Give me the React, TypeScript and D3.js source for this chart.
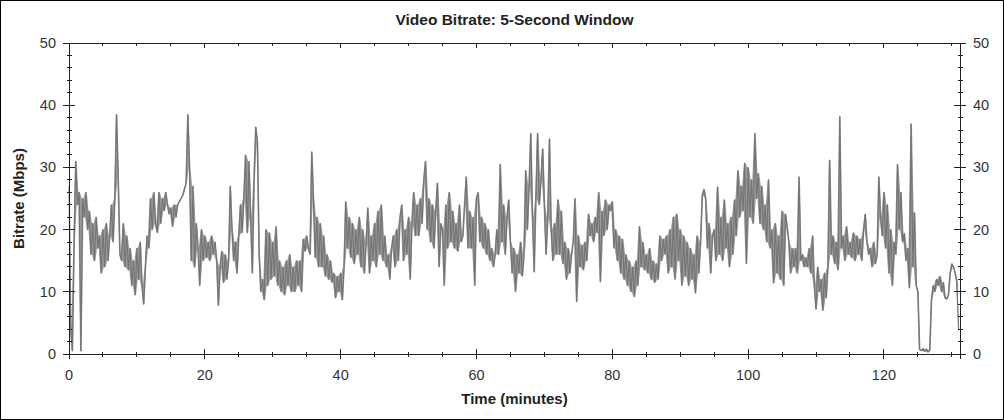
import React from 'react';
import * as d3 from 'd3';

// one sample every 0.25 minute
const STEP = 0.25;
const bitrate = [
  27, 4, 0.5, 18, 31, 24, 26, 0.5, 25, 22, 26, 20, 23, 16, 21, 15,
  22, 17, 19, 13, 20, 14, 21, 15, 19, 24, 18, 25, 38.5, 28, 16, 15,
  21, 14, 19, 13.5, 17, 11, 15, 9.5, 17, 12, 18, 11, 8, 14, 19, 17,
  25, 20, 26, 21, 19.5, 26, 21, 25, 23, 26, 24, 22.5, 23.5, 20.5, 24, 22,
  24, 24.5, 25, 25.5, 26.5, 27.5, 38.5, 30, 15, 27, 14, 21, 17, 11, 20, 15,
  19, 15.5, 18, 15, 19, 16, 18, 15, 7.8, 14, 16.5, 11.5, 16, 12, 15, 27,
  20, 15, 18, 13, 19, 24, 19.5, 25, 32, 19.5, 31, 22, 13, 28, 36.5, 34,
  16, 10, 12, 8.7, 20, 11, 19.5, 12, 18, 12.5, 20.5, 11, 15, 10, 14, 9.5,
  15, 11, 16, 10, 14, 10, 15, 11, 15, 10, 18.5, 16.5, 19, 17, 16, 32.5,
  24.8, 15.5, 22, 14, 21, 14, 19, 12.5, 16, 12, 15, 11.5, 13, 9, 12.5, 10,
  13, 8.7, 14, 24.5, 17, 22, 15.5, 21, 14.5, 20, 16, 22, 14, 20, 13, 18,
  23.5, 13, 19, 15, 21, 14, 23, 16, 24, 15, 19, 14, 16, 12, 17, 19,
  14, 20, 15, 22, 24, 15, 20, 16, 22, 12, 21, 26, 19, 24, 19, 25,
  21, 28, 31, 20, 25, 18, 24, 17, 23, 27.5, 14, 21, 20, 11, 24, 17,
  26, 18, 23, 17, 21, 16.5, 24, 18, 19, 24, 28.5, 17, 23, 17, 22, 11,
  25, 26, 18, 22, 17, 21, 16, 20, 15, 17, 14, 16, 20, 16, 30.5, 18,
  24, 16, 22, 24.8, 18, 13, 17, 10, 16, 13, 18, 12.5, 16, 29.5, 20, 27,
  35.5, 22, 13.2, 25, 35.5, 24, 28, 33, 24, 16, 22, 34.6, 20, 15, 21, 16,
  24.8, 16, 23, 14.5, 18, 12, 17, 13, 16, 18, 25, 8.4, 19, 14, 17.5, 13.5,
  18, 15, 22.5, 19, 21, 18, 22, 19.5, 26, 11.6, 23, 19, 24.8, 20, 24, 23,
  24.5, 17, 20, 15, 19, 13, 18.5, 12, 16, 11, 15, 10, 14, 9.2, 15, 11,
  20.5, 14, 18, 13.5, 16, 13, 17, 12, 15, 11.5, 14.5, 12, 19, 15, 18.5, 16,
  19, 13, 20, 14, 22, 12, 22.5, 15, 20, 11, 19, 12.5, 18, 11, 17, 12,
  16, 9.8, 19, 13, 18, 25.5, 26.5, 25, 17, 21, 13, 19, 20, 15, 26.9, 16,
  22, 15, 24.8, 17, 21, 14, 22, 16, 24.8, 19, 29.5, 22, 27, 23, 30.7, 14.5,
  30, 22, 28, 21, 35.5, 25, 29, 21, 27, 20, 24, 18, 28, 17, 20, 11.4,
  21, 13, 19, 12, 23, 11, 22.5, 20.5, 18, 13, 17, 14, 17, 13, 28.5, 15,
  16, 14, 15.5, 14, 17, 13, 19, 11, 7.2, 14, 10, 12, 7.0, 13, 9, 14,
  31.2, 16, 19, 14.5, 18, 13.5, 38.2, 17, 19, 15, 20.5, 16, 18, 15.5, 19.5, 15,
  19, 16, 18.5, 15, 20, 22.5, 18, 16, 17, 14, 18, 14.5, 16, 28.5, 22, 19,
  26, 17, 24, 13, 20, 11, 18, 16, 30.5, 20, 26, 18, 19.4, 15, 17, 10.6,
  37, 14, 22.7, 11, 10, 0.7, 0.5, 0.9, 0.4, 0.8, 0.3, 0.6, 8.7, 11, 10, 12,
  11, 12.5, 10, 11.5, 9, 8.8, 9.5, 13, 14.5, 14, 13, 11.5, 4,
];

const xMax = 131.2;
const xTicks = [0, 20, 40, 60, 80, 100, 120];
const yTicks = [0, 10, 20, 30, 40, 50];

const W = 1004;
const H = 420;
const margin = { top: 43, right: 44, bottom: 66, left: 69 };
const font = '"Liberation Sans", Arial, sans-serif';

const App = () => {
  const iw = W - margin.left - margin.right;
  const ih = H - margin.top - margin.bottom;
  const x = d3.scaleLinear().domain([0, xMax]).range([0, iw]);
  const y = d3.scaleLinear().domain([0, 50]).range([ih, 0]);
  const xMinor = d3.range(0, xMax, 5);
  const yMinor = d3.range(0, 51, 2);

  const line = d3
    .line<number>()
    .x((d, i) => x(i * STEP))
    .y((d) => y(d));

  // the real trace is far denser than the pixels; shade the swing between
  // neighbouring samples so it reads as the same solid band
  const swing = bitrate.slice(0, -1).map((v, i) => [v, bitrate[i + 1]]);
  const band = d3
    .area<number[]>()
    .x((d, i) => x((i + 0.5) * STEP))
    .y0((d) => y(Math.min(d[0], d[1])))
    .y1((d) => y(Math.max(d[0], d[1])));

  return (
    <svg
      width={W}
      height={H}
      style={{ position: 'absolute', left: 0, top: 0, background: '#fff' }}
    >
      <rect x={0.5} y={0.5} width={W - 1} height={H - 1} fill="#fff" stroke="#000" />
      <text
        x={margin.left + iw / 2}
        y={25}
        textAnchor="middle"
        fontFamily={font}
        fontWeight="bold"
        fontSize={15.5}
        fill="#222"
      >
        Video Bitrate: 5-Second Window
      </text>
      <g transform={`translate(${margin.left},${margin.top})`}>
        <path d={band(swing) || ''} fill="#9a9a9a" stroke="none" />
        <path
          d={line(bitrate) || ''}
          fill="none"
          stroke="#747474"
          strokeWidth={1.1}
          strokeLinejoin="round"
        />

        {/* axis frame */}
        <g stroke="#222" strokeWidth={1} shapeRendering="crispEdges">
          <line x1={-6} x2={iw + 6} y1={0} y2={0} />
          <line x1={-6} x2={iw + 6} y1={ih} y2={ih} />
          <line x1={0} x2={0} y1={0} y2={ih + 5} />
          <line x1={iw} x2={iw} y1={0} y2={ih + 5} />
          {xMinor.map((t) => (
            <g key={'xm' + t}>
              <line x1={x(t)} x2={x(t)} y1={ih - 2} y2={ih + 3} />
              <line x1={x(t)} x2={x(t)} y1={0} y2={3} />
            </g>
          ))}
          {xTicks.map((t) => (
            <g key={'xM' + t}>
              <line x1={x(t)} x2={x(t)} y1={ih - 5} y2={ih + 5} />
              <line x1={x(t)} x2={x(t)} y1={0} y2={5} />
            </g>
          ))}
          {yMinor.map((t) => (
            <g key={'ym' + t}>
              <line x1={-2.5} x2={2.5} y1={y(t)} y2={y(t)} />
              <line x1={iw - 2.5} x2={iw + 2.5} y1={y(t)} y2={y(t)} />
            </g>
          ))}
          {yTicks.map((t) => (
            <g key={'yM' + t}>
              <line x1={-6} x2={6} y1={y(t)} y2={y(t)} />
              <line x1={iw - 6} x2={iw + 6} y1={y(t)} y2={y(t)} />
            </g>
          ))}
        </g>

        <g fontFamily={font} fontSize={14.5} fill="#333">
          {xTicks.map((t) => (
            <text key={'xl' + t} x={x(t)} y={ih + 26} textAnchor="middle">
              {t}
            </text>
          ))}
          {yTicks.map((t) => (
            <g key={'yl' + t}>
              <text x={-13} y={y(t)} dy="0.35em" textAnchor="end">
                {t}
              </text>
              <text x={iw + 13} y={y(t)} dy="0.35em" textAnchor="start">
                {t}
              </text>
            </g>
          ))}
        </g>

        <text
          x={iw / 2}
          y={ih + 50}
          textAnchor="middle"
          fontFamily={font}
          fontWeight="bold"
          fontSize={15}
          fill="#222"
        >
          Time (minutes)
        </text>
        <text
          transform={`translate(${-45},${ih / 2}) rotate(-90)`}
          textAnchor="middle"
          fontFamily={font}
          fontWeight="bold"
          fontSize={15}
          fill="#222"
        >
          Bitrate (Mbps)
        </text>
      </g>
    </svg>
  );
};

export default App;
